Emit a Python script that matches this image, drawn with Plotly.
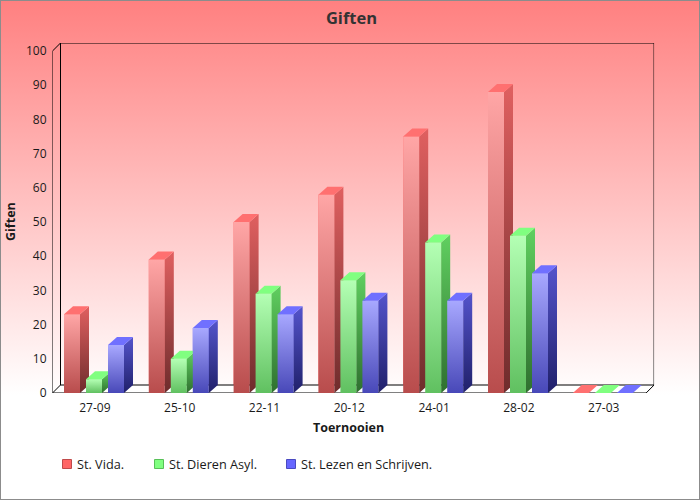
import plotly.graph_objects as go

categories = ["27-09", "25-10", "22-11", "20-12", "24-01", "28-02", "27-03"]
st_vida = [23, 39, 50, 58, 75, 88, 0]
st_dieren = [4, 10, 29, 33, 44, 46, 0]
st_lezen = [14, 19, 23, 27, 27, 35, 0]
series_names = ["St. Vida.", "St. Dieren Asyl.", "St. Lezen en Schrijven."]
series_values = [st_vida, st_dieren, st_lezen]
y_ticks = list(range(0, 101, 10))
legend_px = [62, 154, 286]

palette = [
    dict(leg="#ff6666", edge="#c04a4a", top="#ff7070", front=("#ffa6a6", "#b84c4c"), side=("#e06060", "#6e2c2c")),
    dict(leg="#80ff80", edge="#58c058", top="#80ff80", front=("#b4ffb4", "#60c060"), side=("#60d060", "#2f6f2f")),
    dict(leg="#6666ff", edge="#4a4ac0", top="#7070ff", front=("#a8a8ff", "#4848b8"), side=("#5454cc", "#20206a")),
]

FONT = "Open Sans"
TXT = "#1a1a1a"
PX_X = 84.8
PX_Y = 3.42
DX = 8 / PX_X
DY = 8 / PX_Y
BAR_DX = 9 / PX_X
BAR_W = 16 / PX_X
STEP = 22 / PX_X
SHIFT = -0.9 / PX_X
X_MAX = 6.5 + DX
Y_MAX = 100 + DY

fig = go.Figure()

fig.add_trace(go.Scatter(
    x=[0, 700, 700, 0, 0], y=[105, 105, 500, 500, 105], mode="lines", line=dict(width=0),
    fill="toself", showlegend=False, hoverinfo="skip", xaxis="x", yaxis="y",
    fillgradient=dict(type="vertical", start=500, stop=105,
                      colorscale=[[0, "#ff8080"], [1, "#ffffff"]]),
))

annotations = [
    dict(text="<b>Toernooien</b>", x=348.5, y=73, xref="x", yref="y", showarrow=False,
         xanchor="center", yanchor="middle", font=dict(family=FONT, size=12.5, color=TXT)),
    dict(text="<b>Giften</b>", x=10, y=278, xref="x", yref="y", showarrow=False, textangle=-90,
         xanchor="center", yanchor="middle", font=dict(family=FONT, size=12.5, color=TXT)),
]
for px, name, pal in zip(legend_px, series_names, palette):
    fig.add_trace(go.Scatter(
        x=[px + 5], y=[36], mode="markers", name=name, showlegend=False, hoverinfo="skip",
        marker=dict(symbol="square", size=9, color=pal["leg"], line=dict(color=pal["edge"], width=1)),
        xaxis="x", yaxis="y",
    ))
    annotations.append(dict(text=name, x=px + 13, y=36, xref="x", yref="y", xanchor="left",
                            yanchor="middle", showarrow=False,
                            font=dict(family=FONT, size=12.7, color=TXT)))

fig.add_trace(go.Scatter(
    x=[-0.5, 6.5, X_MAX, -0.5 + DX, -0.5], y=[0, 0, DY, DY, 0], mode="lines", line=dict(width=0),
    fill="toself", fillcolor="#ffffff", showlegend=False, hoverinfo="skip", xaxis="x2", yaxis="y2",
))
fx = [-0.5 + DX, -0.5 + DX, X_MAX, X_MAX, -0.5 + DX, None, -0.5, -0.5, -0.5 + DX, None,
      -0.5, 6.5, X_MAX, None, -0.5, -0.5 + DX]
fy = [DY, Y_MAX, Y_MAX, DY, DY, None, 0, 100, Y_MAX, None,
      0, 0, DY, None, 0, DY]
fig.add_trace(go.Scatter(x=fx, y=fy, mode="lines", line=dict(color="#000000", width=1),
                         showlegend=False, hoverinfo="skip", xaxis="x2", yaxis="y2"))

xs = list(range(len(categories)))
for k, (name, vals, pal) in enumerate(zip(series_names, series_values, palette)):
    off = SHIFT + (k - 1) * STEP - BAR_W / 2
    fig.add_trace(go.Bar(
        x=xs, y=vals, name=name, width=BAR_W, offset=off,
        marker=dict(color=pal["leg"], line=dict(width=0)),
        showlegend=False, hoverinfo="skip", xaxis="x2", yaxis="y2",
    ))
    for x, v in zip(xs, vals):
        l = x + off
        r = l + BAR_W
        if v > 0:
            fig.add_trace(go.Scatter(
                x=[l, r, r, l, l], y=[0, 0, v, v, 0], mode="lines", line=dict(width=0),
                fill="toself", showlegend=False, hoverinfo="skip", xaxis="x2", yaxis="y2",
                fillgradient=dict(type="vertical", start=0, stop=v,
                                  colorscale=[[0, pal["front"][1]], [1, pal["front"][0]]]),
            ))
            fig.add_trace(go.Scatter(
                x=[r, r + BAR_DX, r + BAR_DX, r, r], y=[0, DY, v + DY, v, 0], mode="lines", line=dict(width=0),
                fill="toself", showlegend=False, hoverinfo="skip", xaxis="x2", yaxis="y2",
                fillgradient=dict(type="vertical", start=0, stop=v + DY,
                                  colorscale=[[0, pal["side"][1]], [1, pal["side"][0]]]),
            ))
        fig.add_trace(go.Scatter(
            x=[l, r, r + BAR_DX, l + BAR_DX, l], y=[v, v, v + DY, v + DY, v], mode="lines", line=dict(width=0),
            fill="toself", fillcolor=pal["top"], showlegend=False, hoverinfo="skip",
            xaxis="x2", yaxis="y2",
        ))

shapes = [dict(type="rect", xref="paper", yref="paper", x0=0, y0=0, x1=1, y1=1,
               line=dict(color="#8c8c8c", width=2), layer="above")]

fig.update_layout(
    width=700, height=500, autosize=False,
    margin=dict(l=0, r=0, t=0, b=0, autoexpand=False),
    paper_bgcolor="#ffffff", plot_bgcolor="rgba(0,0,0,0)",
    font=dict(family=FONT, size=12, color=TXT),
    barmode="overlay",
    title=dict(text="<b>Giften</b>", x=351.5 / 700, xanchor="center", y=0.963, yanchor="middle",
               font=dict(family=FONT, size=16.5, color="#333333")),
    xaxis=dict(domain=[0, 1], range=[0, 700], visible=False, fixedrange=True, automargin=False),
    yaxis=dict(domain=[0, 1], range=[0, 500], visible=False, fixedrange=True, automargin=False),
    xaxis2=dict(domain=[52.5 / 700, 654.1 / 700], range=[-0.5, X_MAX], anchor="y2", automargin=False,
                tickmode="array", tickvals=xs, ticktext=categories, showgrid=False,
                zeroline=False, showline=False, ticks="", ticklen=0, ticklabelstandoff=6,
                tickfont=dict(family=FONT, size=12, color=TXT)),
    yaxis2=dict(domain=[107 / 500, 457 / 500], range=[0, Y_MAX], anchor="x2", automargin=False,
                tickmode="array", tickvals=y_ticks, showgrid=False, zeroline=False,
                showline=False, ticks="", ticklabelstandoff=5,
                tickfont=dict(family=FONT, size=12, color=TXT)),
    annotations=annotations,
    shapes=shapes,
    showlegend=False,
)

post = """
document.documentElement.style.margin='0';
document.body.style.margin='0';
"""
fig.write_html("out.html", config=dict(displayModeBar=False, responsive=False), post_script=post)
